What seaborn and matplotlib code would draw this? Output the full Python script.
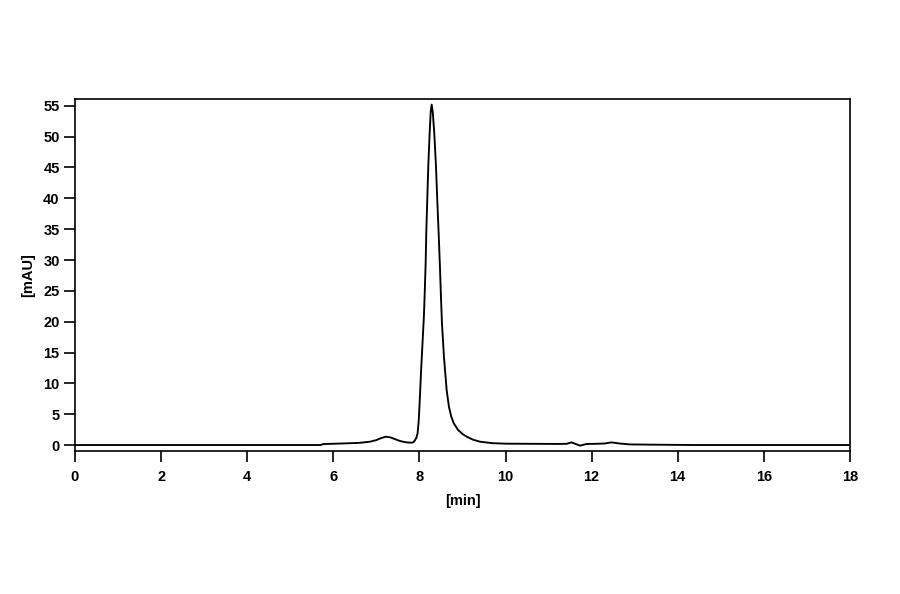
import pandas as pd
import matplotlib
matplotlib.use("Agg")
import matplotlib.pyplot as plt
import seaborn as sns

# chromatogram trace (time in min, signal in mAU)
time_min = [0.0, 2.0, 4.0, 5.0, 5.70, 5.77, 6.2, 6.6, 6.85, 7.0, 7.1, 7.22, 7.32,
            7.43, 7.55, 7.70, 7.82, 7.86, 7.90, 7.93, 7.958, 7.985, 8.005, 8.04,
            8.08, 8.105, 8.125, 8.145, 8.159, 8.182, 8.206, 8.238, 8.262, 8.285,
            8.31, 8.345, 8.385, 8.415, 8.447, 8.477, 8.50, 8.524, 8.57, 8.633,
            8.686, 8.74, 8.80, 8.90, 9.00, 9.10, 9.25, 9.41, 9.7, 10.02, 10.6,
            11.2, 11.42, 11.53, 11.62, 11.73, 11.88, 12.1, 12.3, 12.46, 12.65,
            12.89, 13.59, 14.44, 15.5, 16.5, 18.0]
signal_mau = [0.0, 0.0, 0.0, 0.0, 0.0, 0.16, 0.25, 0.35, 0.54, 0.8, 1.1, 1.35, 1.25,
              0.97, 0.65, 0.43, 0.38, 0.45, 0.8, 1.2, 1.9, 4.06, 6.8, 12.2,
              17.6, 21.0, 25.0, 29.5, 34.3, 39.7, 45.2, 50.6, 54.0, 55.2,
              54.0, 50.6, 45.2, 39.7, 34.3, 28.9, 24.1, 19.7, 14.3, 8.9,
              6.2, 4.6, 3.5, 2.43, 1.8, 1.35, 0.85, 0.54, 0.3, 0.22, 0.2,
              0.18, 0.2, 0.43, 0.2, -0.1, 0.17, 0.2, 0.25, 0.43, 0.25,
              0.1, 0.05, 0.0, 0.0, 0.0, 0.0]

x_ticks = [0, 2, 4, 6, 8, 10, 12, 14, 16, 18]
y_ticks = [0, 5, 10, 15, 20, 25, 30, 35, 40, 45, 50, 55]

df = pd.DataFrame({"time": time_min, "signal": signal_mau})

sns.set_style("ticks")
plt.rcParams["font.family"] = ["Liberation Sans", "DejaVu Sans"]
plt.rcParams["text.color"] = "black"
plt.rcParams["xtick.color"] = "black"
plt.rcParams["ytick.color"] = "black"
plt.rcParams["axes.labelcolor"] = "black"

fig = plt.figure(figsize=(9, 5.94), dpi=100)
ax = fig.add_axes([0.0833, 0.2407, 0.8611, 0.5926])

sns.lineplot(data=df, x="time", y="signal", ax=ax, color="black",
             linewidth=1.35, estimator=None, sort=False)

ax.set_xlim(0, 18)
ax.set_ylim(-0.97, 56.1)
ax.set_xticks(x_ticks)
ax.set_yticks(y_ticks)
ax.set_xticklabels([str(v) for v in x_ticks], fontweight="bold", fontsize=10.5)
ax.set_yticklabels([str(v) for v in y_ticks], fontweight="bold", fontsize=10.5)
ax.tick_params(axis="both", direction="out", length=8, width=1.2, color="black",
               labelcolor="black", pad=3)
ax.tick_params(axis="x", pad=6)

for side in ["left", "right", "top", "bottom"]:
    ax.spines[side].set_visible(True)
    ax.spines[side].set_color("black")
    ax.spines[side].set_linewidth(1.2)

ax.set_xlabel("[min]", fontweight="bold", fontsize=10.5, labelpad=7, color="black")
ax.set_ylabel("[mAU]", fontweight="bold", fontsize=10.5, labelpad=6, color="black")

fig.savefig("out.png", dpi=100, facecolor="white")
